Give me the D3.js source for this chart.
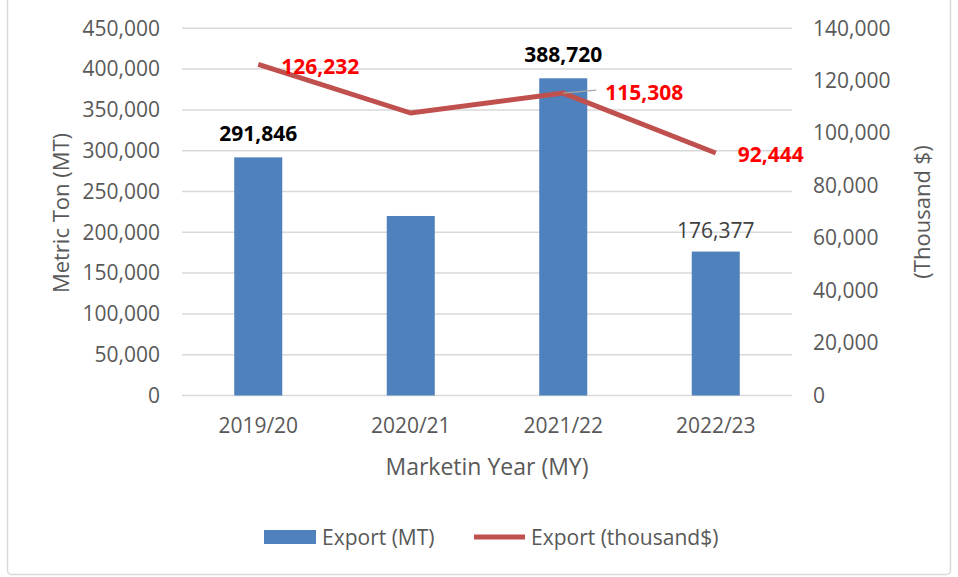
<!DOCTYPE html>
<html>
<head>
<meta charset="utf-8">
<script src="https://cdn.jsdelivr.net/npm/d3@7"></script>
<style>
  body { margin: 0; background: #fff; }
  text { font-family: "Open Sans", "Noto Sans", sans-serif; }
</style>
</head>
<body>
<script>
// datos
var categorias = ['2019/20', '2020/21', '2021/22', '2022/23'];
var exportMT = [291846, 220000, 388720, 176377];
var exportMiles = [126232, 107700, 115308, 92444];
var ticksIzq = [0, 50000, 100000, 150000, 200000, 250000, 300000, 350000, 400000, 450000];
var ticksDcho = [0, 20000, 40000, 60000, 80000, 100000, 120000, 140000];
var leyenda = ['Export (MT)', 'Export (thousand$)'];

var anchoSvg = 958,
    altoSvg = 577,
    margen = {sup: 28.3, izq: 182, dcho: 792, inf: 395.5};

var colorBarra = '#4F81BD',
    colorLinea = '#C0504D',
    gris = '#595959',
    tam = 21;

var formato = d3.format(',');

var svg = d3.select('body')
    .append('svg')
    .attr('width', anchoSvg)
    .attr('height', altoSvg);

// marco
svg.append('rect')
    .attr('x', 7.5).attr('y', -5)
    .attr('width', 943).attr('height', 579.5)
    .attr('rx', 4)
    .attr('fill', 'none')
    .attr('stroke', '#D9D9D9')
    .attr('stroke-width', 1.5);

var escalaX = d3.scaleBand()
    .domain(categorias)
    .range([margen.izq, margen.dcho])
    .paddingInner(0.685)
    .paddingOuter(0.3425);

var escalaY = d3.scaleLinear()
    .domain([0, 450000])
    .range([margen.inf, margen.sup]);

var escalaY2 = d3.scaleLinear()
    .domain([0, 140000])
    .range([margen.inf, margen.sup]);

var centro = i => escalaX(categorias[i]) + escalaX.bandwidth() / 2;

// rejilla
svg.append('g')
    .selectAll('line')
    .data(ticksIzq)
    .enter()
    .append('line')
    .attr('x1', margen.izq)
    .attr('x2', margen.dcho)
    .attr('y1', d => escalaY(d))
    .attr('y2', d => escalaY(d))
    .attr('stroke', '#D9D9D9')
    .attr('stroke-width', 1.5);

function estiloEje(g) {
    g.select('.domain').remove();
    g.selectAll('text')
        .attr('font-size', tam)
        .attr('fill', gris)
        .style('font-family', '"Open Sans", sans-serif');
}

// eje izquierdo
svg.append('g')
    .attr('transform', 'translate(' + margen.izq + ',0)')
    .call(d3.axisLeft(escalaY).tickValues(ticksIzq).tickFormat(formato).tickSize(0).tickPadding(22))
    .call(estiloEje);

// eje derecho
svg.append('g')
    .attr('transform', 'translate(' + margen.dcho + ',0)')
    .call(d3.axisRight(escalaY2).tickValues(ticksDcho).tickFormat(formato).tickSize(0).tickPadding(21))
    .call(estiloEje);

// eje X
svg.append('g')
    .attr('transform', 'translate(0,' + margen.inf + ')')
    .call(d3.axisBottom(escalaX).tickSize(0).tickPadding(23))
    .call(estiloEje);

// barras
svg.append('g')
    .selectAll('rect')
    .data(exportMT)
    .enter()
    .append('rect')
    .attr('x', (d, i) => escalaX(categorias[i]))
    .attr('width', escalaX.bandwidth())
    .attr('y', d => escalaY(d))
    .attr('height', d => escalaY(0) - escalaY(d))
    .attr('fill', colorBarra);

// linea
var linea = d3.line()
    .x((d, i) => centro(i))
    .y(d => escalaY2(d));

svg.append('path')
    .datum(exportMiles)
    .attr('d', linea)
    .attr('fill', 'none')
    .attr('stroke', colorLinea)
    .attr('stroke-width', 5);

// etiquetas barras (la de 2020/21 no aparece)
var estiloBarra = [
    {bold: true, color: '#000', dy: -24},
    null,
    {bold: true, color: '#000', dy: -24},
    {bold: false, color: '#404040', dy: -22}
];
var datosEtiqBarra = exportMT
    .map((v, i) => ({v: v, i: i, e: estiloBarra[i]}))
    .filter(d => d.e);

svg.append('g')
    .selectAll('text')
    .data(datosEtiqBarra)
    .enter()
    .append('text')
    .attr('x', d => centro(d.i))
    .attr('y', d => escalaY(d.v) + d.e.dy)
    .attr('text-anchor', 'middle')
    .attr('dominant-baseline', 'central')
    .attr('font-size', tam)
    .attr('font-weight', d => d.e.bold ? 'bold' : 'normal')
    .attr('fill', d => d.e.color)
    .text(d => formato(d.v));

// etiquetas linea
var desplLinea = [
    {dx: 23, dy: 2},
    null,
    {dx: 42, dy: -1},
    {dx: 22, dy: 1}
];
var datosEtiqLinea = exportMiles
    .map((v, i) => ({v: v, i: i, e: desplLinea[i]}))
    .filter(d => d.e);

svg.append('line')
    .attr('x1', centro(2))
    .attr('y1', escalaY2(exportMiles[2]))
    .attr('x2', centro(2) + 33)
    .attr('y2', escalaY2(exportMiles[2]) - 3)
    .attr('stroke', '#A6A6A6')
    .attr('stroke-width', 1.2);

svg.append('g')
    .selectAll('text')
    .data(datosEtiqLinea)
    .enter()
    .append('text')
    .attr('x', d => centro(d.i) + d.e.dx)
    .attr('y', d => escalaY2(d.v) + d.e.dy)
    .attr('dominant-baseline', 'central')
    .attr('font-size', tam)
    .attr('font-weight', 'bold')
    .attr('fill', '#FF0000')
    .text(d => formato(d.v));

// titulos de ejes
svg.append('text')
    .attr('transform', 'translate(60,213) rotate(-90)')
    .attr('text-anchor', 'middle')
    .attr('dominant-baseline', 'central')
    .attr('font-size', 22)
    .attr('fill', gris)
    .text('Metric Ton (MT)');

svg.append('text')
    .attr('transform', 'translate(921,212) rotate(-90)')
    .attr('text-anchor', 'middle')
    .attr('dominant-baseline', 'central')
    .attr('font-size', 22)
    .attr('fill', gris)
    .text('(Thousand $)');

svg.append('text')
    .attr('x', 487)
    .attr('y', 466)
    .attr('text-anchor', 'middle')
    .attr('dominant-baseline', 'central')
    .attr('font-size', 23)
    .attr('fill', gris)
    .text('Marketin Year (MY)');

// leyenda
var gLey = svg.append('g');
gLey.append('rect')
    .attr('x', 264).attr('y', 530)
    .attr('width', 52).attr('height', 14)
    .attr('fill', colorBarra);
gLey.append('line')
    .attr('x1', 474).attr('x2', 525)
    .attr('y1', 537).attr('y2', 537)
    .attr('stroke', colorLinea)
    .attr('stroke-width', 5);
gLey.selectAll('text')
    .data(leyenda)
    .enter()
    .append('text')
    .attr('x', (d, i) => i == 0 ? 322 : 531)
    .attr('y', 537)
    .attr('dominant-baseline', 'central')
    .attr('font-size', tam)
    .attr('fill', gris)
    .text(d => d);
</script>
</body>
</html>
